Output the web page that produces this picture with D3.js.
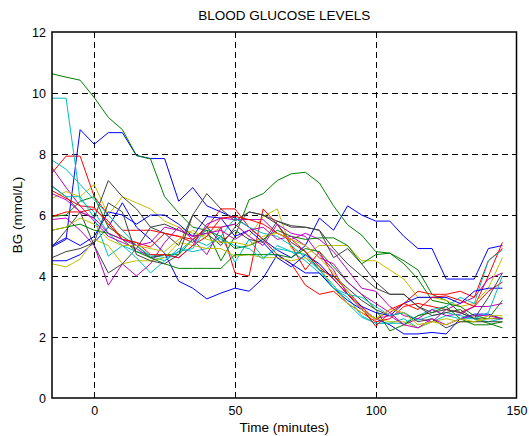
<!DOCTYPE html>
<html>
<head>
<meta charset="utf-8">
<script src="https://cdn.jsdelivr.net/npm/d3@7"></script>
<style>
  body { margin: 0; background: #fff; }
  svg { display: block; font-family: "Liberation Sans", Arial, sans-serif; }
</style>
</head>
<body>
<script>
// sample times (minutes)
const times = d3.range(-15, 150, 5);

// BG readings per subject (mmol/L), one value per sample time
const blue1 = [4.95, 5.2, 8.8, 8.32, 8.7, 8.7, 7.95, 7.85, 7.85, 6.45, 6.9, 6.3, 6.1, 5.9, 5.6, 5.2, 4.85, 4.6, 5.0, 5.9, 5.5, 6.3, 6.0, 5.8, 5.8, 5.3, 4.9, 4.9, 3.9, 3.9, 3.9, 4.9, 5.0];
const green1 = [10.63, 10.52, 10.42, 9.85, 9.2, 8.8, 7.95, 7.84, 6.6, 6.07, 5.6, 5.5, 4.5, 5.3, 6.5, 6.7, 7.13, 7.35, 7.4, 7.05, 6.3, 5.68, 5.34, 4.8, 4.75, 4.5, 4.2, 3.4, 3.2, 2.8, 2.6, 2.45, 2.3];
const red1 = [7.38, 7.93, 7.93, 6.6, 6.0, 5.5, 5.5, 5.5, 5.4, 5.3, 5.1, 5.6, 6.2, 6.2, 5.6, 5.2, 4.7, 4.4, 3.7, 3.4, 3.5, 3.1, 2.8, 2.5, 2.6, 3.0, 3.1, 3.0, 2.9, 2.8, 3.0, 4.0, 5.1];
const cyan1 = [9.83, 9.83, 6.5, 6.1, 5.4, 5.0, 4.8, 4.7, 4.6, 4.8, 5.2, 5.0, 5.3, 4.45, 5.2, 4.6, 4.9, 4.8, 4.5, 4.1, 3.6, 3.3, 2.7, 2.45, 2.45, 2.6, 2.3, 2.5, 2.7, 2.6, 2.6, 2.5, 2.6];
const magenta1 = [7.55, 6.9, 6.3, 5.8, 5.3, 5.1, 4.9, 4.6, 4.7, 4.6, 5.0, 5.7, 5.9, 5.85, 5.85, 5.85, 5.4, 5.2, 5.4, 5.2, 4.8, 4.2, 3.6, 3.5, 3.0, 2.7, 2.6, 2.5, 2.9, 3.1, 3.3, 3.9, 4.1];
const yellow1 = [6.55, 6.77, 6.6, 7.0, 6.0, 6.6, 6.4, 6.2, 5.8, 5.6, 5.4, 5.3, 5.6, 5.7, 5.3, 5.95, 6.2, 4.9, 4.7, 5.0, 5.0, 5.0, 4.5, 4.5, 4.2, 3.9, 3.3, 3.3, 3.2, 3.0, 3.1, 3.6, 4.6];
const gray1 = [6.95, 6.6, 6.1, 5.9, 7.13, 6.6, 6.2, 5.6, 5.4, 5.0, 6.0, 6.7, 6.2, 5.8, 6.1, 6.0, 5.8, 5.6, 5.6, 5.5, 4.6, 4.9, 4.4, 3.8, 3.4, 3.4, 3.0, 2.8, 2.9, 2.8, 2.6, 2.6, 2.6];
const blue2 = [4.5, 4.5, 4.7, 5.1, 5.6, 6.4, 5.6, 5.2, 4.75, 3.83, 3.6, 3.25, 3.44, 3.6, 3.5, 3.93, 4.7, 4.4, 4.1, 4.1, 3.6, 3.2, 2.9, 2.6, 2.4, 2.1, 2.1, 2.15, 2.1, 2.6, 2.75, 2.75, 2.6];
const green2 = [5.95, 6.0, 6.45, 6.6, 5.6, 5.3, 5.0, 4.6, 4.7, 4.7, 5.2, 5.5, 5.3, 4.9, 5.0, 5.2, 5.5, 5.3, 5.2, 5.25, 5.25, 5.0, 4.4, 4.7, 4.75, 4.4, 3.9, 3.2, 3.1, 3.0, 2.7, 2.6, 3.2];
const red2 = [6.8, 6.55, 6.3, 6.25, 5.7, 5.2, 5.1, 4.95, 5.4, 5.3, 5.2, 5.6, 5.6, 4.1, 4.0, 6.2, 5.7, 5.0, 4.2, 4.8, 4.0, 3.5, 3.0, 2.55, 2.9, 3.1, 3.5, 3.4, 3.4, 3.5, 3.3, 4.5, 4.9];
const cyan2 = [7.8, 7.5, 7.0, 6.5, 6.0, 5.5, 5.0, 4.65, 4.5, 4.9, 4.8, 4.9, 5.3, 5.9, 5.6, 5.4, 5.3, 5.0, 4.6, 4.2, 3.7, 3.1, 2.65, 2.45, 2.45, 2.45, 2.7, 2.9, 3.0, 3.3, 3.1, 4.5, 4.85];
const magenta2 = [5.85, 5.9, 5.5, 5.0, 3.7, 4.4, 4.0, 4.4, 5.1, 5.6, 5.2, 4.7, 5.6, 5.7, 5.3, 5.0, 5.7, 5.4, 5.3, 4.7, 4.2, 3.4, 2.9, 2.6, 2.7, 2.4, 2.6, 2.9, 2.7, 2.75, 3.0, 3.0, 3.1];
const yellow2 = [4.4, 4.3, 4.55, 5.2, 5.0, 4.4, 4.5, 4.5, 4.6, 5.1, 5.0, 4.9, 4.9, 4.65, 4.7, 4.6, 4.6, 4.5, 4.6, 4.3, 3.6, 3.1, 2.8, 2.6, 2.5, 2.5, 2.3, 2.5, 2.6, 2.5, 2.5, 2.6, 2.65];
const gray2 = [4.95, 5.5, 6.1, 5.0, 4.1, 4.4, 4.9, 5.6, 5.7, 5.5, 5.3, 5.4, 5.0, 5.6, 6.1, 6.0, 5.7, 5.1, 4.8, 4.2, 4.0, 3.6, 3.2, 2.9, 2.7, 2.8, 2.5, 2.6, 2.3, 2.5, 2.5, 2.5, 2.5];
const blue3 = [5.0, 5.25, 5.0, 5.3, 6.1, 6.0, 5.7, 6.0, 6.0, 5.7, 5.3, 5.95, 5.9, 5.3, 5.5, 5.1, 4.6, 4.3, 4.7, 4.4, 3.9, 3.4, 3.0, 2.8, 2.7, 3.1, 3.3, 3.3, 3.3, 3.1, 3.5, 3.6, 3.6];
const green3 = [5.5, 5.6, 5.7, 5.5, 5.4, 5.2, 4.8, 4.6, 4.4, 4.25, 4.25, 4.25, 4.25, 4.7, 4.7, 4.7, 4.7, 4.6, 4.9, 4.8, 4.3, 3.8, 3.4, 2.9, 2.2, 2.4, 2.7, 2.8, 3.0, 2.6, 2.4, 2.4, 2.5];
const red3 = [5.95, 6.1, 6.1, 6.2, 5.8, 5.2, 5.1, 4.7, 4.7, 4.6, 5.0, 5.3, 5.9, 5.95, 5.85, 5.7, 5.4, 5.2, 4.8, 4.3, 3.9, 3.4, 2.95, 2.35, 2.8, 3.1, 2.9, 3.3, 3.35, 3.2, 3.0, 3.5, 3.8];
const cyan3 = [6.93, 6.6, 6.6, 5.9, 4.65, 5.0, 4.6, 4.1, 4.5, 4.8, 4.9, 5.6, 5.2, 5.0, 4.9, 4.55, 5.0, 4.8, 4.7, 4.2, 3.6, 3.4, 3.3, 3.0, 2.7, 2.8, 2.55, 2.7, 2.8, 2.7, 2.6, 2.8, 4.0];
const magenta3 = [6.7, 6.5, 6.1, 5.9, 5.4, 5.2, 5.0, 5.1, 5.6, 5.5, 5.3, 5.4, 5.5, 5.2, 5.5, 5.6, 5.2, 5.3, 5.0, 4.6, 4.4, 3.8, 3.4, 3.1, 2.8, 2.4, 2.3, 2.6, 2.4, 2.6, 2.7, 2.7, 2.6];
const yellow3 = [5.5, 5.6, 5.9, 5.7, 5.2, 5.0, 5.0, 4.9, 4.8, 5.2, 5.5, 5.2, 5.1, 5.1, 5.0, 5.3, 5.4, 5.2, 5.0, 4.6, 4.1, 3.5, 2.9, 2.6, 2.9, 2.8, 2.4, 2.5, 2.4, 2.6, 2.5, 2.7, 2.7];
const gray3 = [4.6, 4.8, 4.9, 5.1, 6.4, 6.1, 4.7, 4.5, 4.4, 4.7, 6.0, 5.6, 5.1, 5.5, 5.2, 5.1, 5.8, 5.65, 5.6, 5.5, 4.9, 4.4, 4.0, 3.6, 3.4, 3.4, 3.0, 2.7, 2.8, 2.9, 2.6, 3.3, 4.1];

const subjects = [blue1, green1, red1, cyan1, magenta1, yellow1, gray1,
                  blue2, green2, red2, cyan2, magenta2, yellow2, gray2,
                  blue3, green3, red3, cyan3, magenta3, yellow3, gray3];

// matlab default line colour order
const colorOrder = ["#0000ff", "#008000", "#ff0000", "#00bfbf", "#bf00bf", "#bfbf00", "#404040"];

const xTicks = [0, 50, 100, 150];
const yTicks = [0, 2, 4, 6, 8, 10, 12];

const W = 529, H = 436;
const plotLeft = 52, plotRight = 516.5, plotTop = 32, plotBottom = 398;

const svg = d3.select("body").append("svg")
  .attr("width", W)
  .attr("height", H);

const x = d3.scaleLinear().domain([-15, 150]).range([plotLeft, plotRight]);
const y = d3.scaleLinear().domain([0, 12]).range([plotBottom, plotTop]);

// dashed grid
const grid = svg.append("g")
  .attr("stroke", "#000")
  .attr("stroke-width", 1)
  .attr("stroke-dasharray", "6,4");

grid.selectAll(".vgrid")
  .data(xTicks.filter(d => d > -15 && d < 150))
  .enter().append("line")
  .attr("x1", d => Math.round(x(d)) + 0.5)
  .attr("x2", d => Math.round(x(d)) + 0.5)
  .attr("y1", plotBottom)
  .attr("y2", plotTop);

grid.selectAll(".hgrid")
  .data(yTicks.filter(d => d > 0 && d < 12))
  .enter().append("line")
  .attr("x1", plotLeft)
  .attr("x2", plotRight)
  .attr("y1", d => Math.round(y(d)) + 0.5)
  .attr("y2", d => Math.round(y(d)) + 0.5);

// subject traces
const line = d3.line()
  .x((d, i) => x(times[i]))
  .y(d => y(d));

svg.append("g")
  .selectAll("path")
  .data(subjects)
  .enter().append("path")
  .attr("d", line)
  .attr("fill", "none")
  .attr("stroke", (d, i) => colorOrder[i % colorOrder.length])
  .attr("stroke-width", 1);

// axes box
svg.append("rect")
  .attr("x", plotLeft)
  .attr("y", plotTop)
  .attr("width", plotRight - plotLeft)
  .attr("height", plotBottom - plotTop)
  .attr("fill", "none")
  .attr("stroke", "#000")
  .attr("stroke-width", 1.5);

const xAxis = d3.axisBottom(x).tickValues(xTicks).tickSize(0).tickPadding(8);
const yAxis = d3.axisLeft(y).tickValues(yTicks).tickSize(0).tickPadding(6);

const gx = svg.append("g")
  .attr("transform", `translate(0,${plotBottom})`)
  .call(xAxis);
const gy = svg.append("g")
  .attr("transform", `translate(${plotLeft},0)`)
  .call(yAxis);

[gx, gy].forEach(g => {
  g.select(".domain").remove();
  g.selectAll("text")
    .attr("fill", "#000")
    .style("font-size", "12.5px")
    .style("font-family", "'Liberation Sans', Arial, sans-serif");
});

svg.append("text")
  .attr("x", (plotLeft + plotRight) / 2)
  .attr("y", 20)
  .attr("text-anchor", "middle")
  .style("font-size", "13.5px")
  .text("BLOOD GLUCOSE LEVELS");

svg.append("text")
  .attr("x", (plotLeft + plotRight) / 2)
  .attr("y", 432)
  .attr("text-anchor", "middle")
  .style("font-size", "13.5px")
  .text("Time (minutes)");

svg.append("text")
  .attr("transform", `translate(22,${(plotTop + plotBottom) / 2}) rotate(-90)`)
  .attr("text-anchor", "middle")
  .style("font-size", "13.5px")
  .text("BG (mmol/L)");
</script>
</body>
</html>
